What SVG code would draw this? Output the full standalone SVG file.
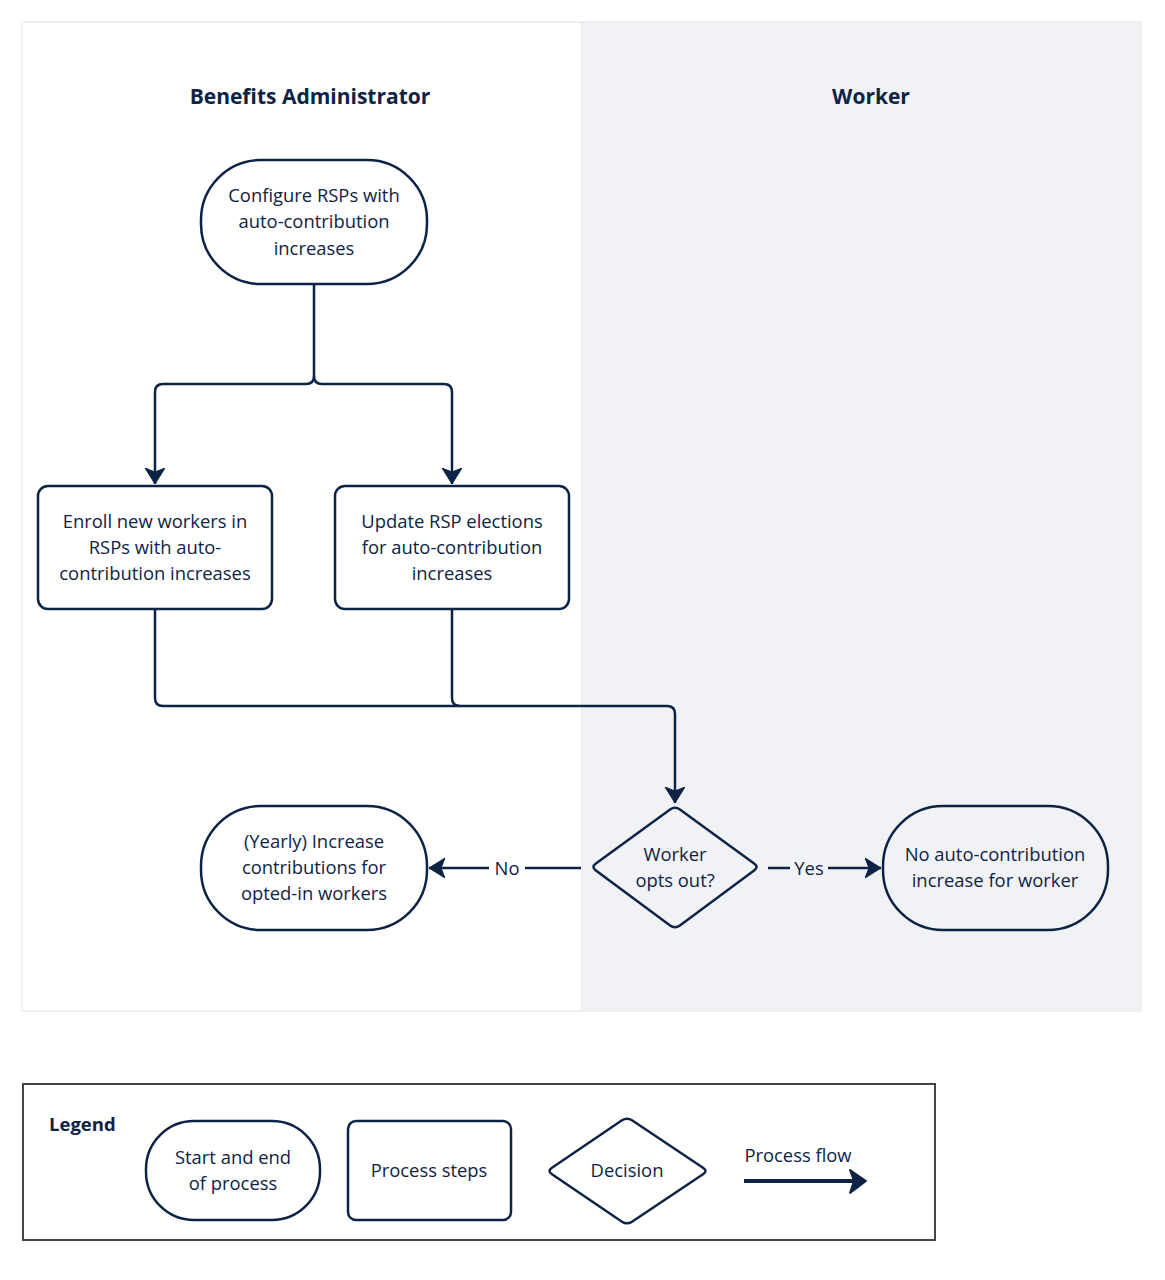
<svg xmlns="http://www.w3.org/2000/svg" width="1165" height="1280" viewBox="0 0 1165 1280">
<style>
.shape{fill:none;stroke:#0d2345;stroke-width:2.5;stroke-linejoin:round}
.conn{fill:none;stroke:#0d2345;stroke-width:2.5}
.t{font-family:"Open Sans","Liberation Sans",sans-serif;font-size:18.4px;fill:#0d2345;text-anchor:middle}
.h{font-family:"Open Sans","Liberation Sans",sans-serif;font-size:21px;font-weight:bold;fill:#0d2345;text-anchor:middle}
</style>
<defs>
<marker id="ah" markerUnits="userSpaceOnUse" markerWidth="22" markerHeight="22" refX="16" refY="10" orient="auto">
<path d="M0,0 L16,10 L0,20 L4,10 Z" fill="#0d2345" stroke="#0d2345" stroke-width="1" stroke-linejoin="round"/>
</marker>
</defs>
<rect width="1165" height="1280" fill="#ffffff"/>
<g id="lanes">
<rect x="22" y="22" width="560" height="989" fill="#ffffff" stroke="#ececec" stroke-width="1.5"/>
<rect x="582" y="22" width="559" height="989" fill="#f1f2f6" stroke="#ececec" stroke-width="1.5"/>
<text class="h" x="310" y="104">Benefits Administrator</text>
<text class="h" x="871" y="104">Worker</text>
</g>
<g id="connectors">
<path class="conn" d="M314,284 V376 Q314,384 306,384 H163 Q155,384 155,392 V484" marker-end="url(#ah)"/>
<path class="conn" d="M314,376 Q314,384 322,384 H444 Q452,384 452,392 V484" marker-end="url(#ah)"/>
<path class="conn" d="M155,609 V698 Q155,706 163,706 H667 Q675,706 675,714 V803" marker-end="url(#ah)"/>
<path class="conn" d="M452,609 V698 Q452,706 460,706"/>
<path class="conn" d="M581,868 H429" marker-end="url(#ah)"/>
<rect x="489" y="856" width="36" height="24" fill="#ffffff"/>
<text class="t" x="507" y="875">No</text>
<path class="conn" d="M768,868 H881" marker-end="url(#ah)"/>
<rect x="790" y="856" width="38" height="24" fill="#f1f2f6"/>
<text class="t" x="809" y="875">Yes</text>
</g>
<g id="n1">
<rect class="shape" x="201" y="160" width="226" height="124" rx="60" fill="#ffffff"/>
<text class="t" x="314" y="202">Configure RSPs with</text>
<text class="t" x="314" y="228">auto-contribution</text>
<text class="t" x="314" y="255">increases</text>
</g>
<g id="n2">
<rect class="shape" x="38" y="486" width="234" height="123" rx="10"/>
<text class="t" x="155" y="528">Enroll new workers in</text>
<text class="t" x="155" y="554">RSPs with auto-</text>
<text class="t" x="155" y="580">contribution increases</text>
</g>
<g id="n3">
<rect class="shape" x="335" y="486" width="234" height="123" rx="10"/>
<text class="t" x="452" y="528">Update RSP elections</text>
<text class="t" x="452" y="554">for auto-contribution</text>
<text class="t" x="452" y="580">increases</text>
</g>
<g id="n4">
<path class="shape" d="M679.9,809.5 L754.1,863.5 Q759,867 754.1,870.5 L679.9,925.5 Q675,929 670.1,925.5 L595.9,870.5 Q591,867 595.9,863.5 L670.1,809.5 Q675,806 679.9,809.5 Z"/>
<text class="t" x="675" y="861">Worker</text>
<text class="t" x="675" y="887">opts out?</text>
</g>
<g id="n5">
<rect class="shape" x="201" y="806" width="226" height="124" rx="60"/>
<text class="t" x="314" y="848">(Yearly) Increase</text>
<text class="t" x="314" y="874">contributions for</text>
<text class="t" x="314" y="900">opted-in workers</text>
</g>
<g id="n6">
<rect class="shape" x="883" y="806" width="225" height="124" rx="60"/>
<text class="t" x="995" y="861">No auto-contribution</text>
<text class="t" x="995" y="887">increase for worker</text>
</g>
<g id="legend">
<rect x="23" y="1084" width="912" height="156" fill="none" stroke="#444444" stroke-width="2"/>
<text x="49" y="1131" style="font-family:'Open Sans','Liberation Sans',sans-serif;font-size:18.5px;font-weight:bold;fill:#0d2345">Legend</text>
<rect class="shape" x="146" y="1121" width="174" height="99" rx="48"/>
<text class="t" x="233" y="1164">Start and end</text>
<text class="t" x="233" y="1190">of process</text>
<rect class="shape" x="348" y="1121" width="163" height="99" rx="8"/>
<text class="t" x="429" y="1177">Process steps</text>
<path class="shape" d="M632,1120.3 L703,1167.7 Q708,1171 703,1174.3 L632,1221.7 Q627,1225 622,1221.7 L552,1174.3 Q547,1171 552,1167.7 L622,1120.3 Q627,1117 632,1120.3 Z"/>
<text class="t" x="627" y="1177">Decision</text>
<text class="t" x="798" y="1162">Process flow</text>
<path d="M744,1181 H862" stroke="#0d2345" stroke-width="4" fill="none"/>
<path d="M850,1170 L866,1181 L850,1193 L854,1181 Z" fill="#0d2345" stroke="#0d2345" stroke-width="2" stroke-linejoin="round"/>
</g>
</svg>
